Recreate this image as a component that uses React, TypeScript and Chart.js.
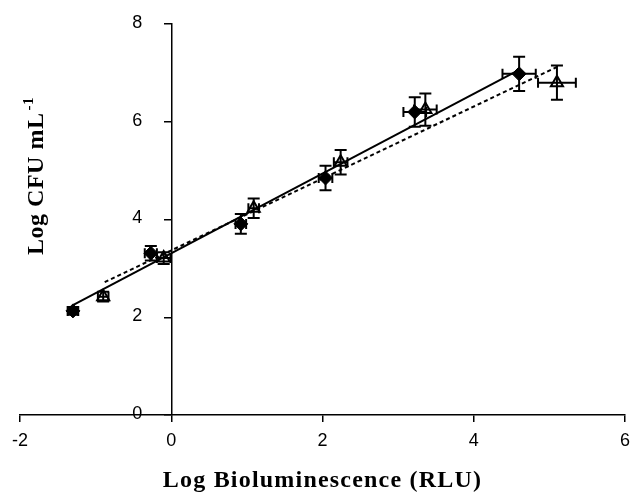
import React, { useEffect, useRef } from "react";
import { Chart, registerables } from "chart.js";

Chart.register(...registerables);

// Filled diamonds (solid fit line)
const diamondX = [-1.3, -0.27, 0.92, 2.04, 3.22, 4.6];
const diamondY = [2.13, 3.31, 3.91, 4.85, 6.2, 6.98];
const diamondXErr = [0.07, 0.08, 0.07, 0.09, 0.15, 0.22];
const diamondYErr = [0.08, 0.15, 0.2, 0.25, 0.3, 0.35];

// Open triangles (dashed fit line)
const triangleX = [-0.9, -0.1, 1.09, 2.24, 3.36, 5.1];
const triangleY = [2.42, 3.21, 4.23, 5.17, 6.25, 6.8];
const triangleXErr = [0.07, 0.09, 0.07, 0.09, 0.15, 0.25];
const triangleYErr = [0.1, 0.12, 0.2, 0.25, 0.33, 0.35];

// Trend lines (end points)
const solidFitX = [-1.3, 4.6];
const solidFitY = [2.25, 7.06];
const dashedFitX = [-0.88, 5.1];
const dashedFitY = [2.72, 7.12];

const xTitle = "Log Bioluminescence (RLU)";
const yTitleMain = "Log CFU mL";
const yTitleSup = "-1";

const TICK_FONT = '18px "Liberation Sans", Arial, sans-serif';

const toPts = (xs: number[], ys: number[]) => xs.map((x, i) => ({ x, y: ys[i] }));

const errorBars = {
  id: "errorBars",
  afterDatasetsDraw(chart: any) {
    const ctx = chart.ctx;
    const xs = chart.scales.x;
    const ys = chart.scales.y;
    const sets = [
      { X: diamondX, Y: diamondY, ex: diamondXErr, ey: diamondYErr },
      { X: triangleX, Y: triangleY, ex: triangleXErr, ey: triangleYErr },
    ];
    ctx.save();
    ctx.strokeStyle = "#000";
    ctx.lineWidth = 2;
    const cap = 6;
    sets.forEach((s) => {
      s.X.forEach((x, i) => {
        const px = xs.getPixelForValue(x);
        const py = ys.getPixelForValue(s.Y[i]);
        const yt = ys.getPixelForValue(s.Y[i] + s.ey[i]);
        const yb = ys.getPixelForValue(s.Y[i] - s.ey[i]);
        const xl = xs.getPixelForValue(x - s.ex[i]);
        const xr = xs.getPixelForValue(x + s.ex[i]);
        ctx.beginPath();
        ctx.moveTo(px, yt); ctx.lineTo(px, yb);
        ctx.moveTo(px - cap, yt); ctx.lineTo(px + cap, yt);
        ctx.moveTo(px - cap, yb); ctx.lineTo(px + cap, yb);
        ctx.moveTo(xl, py); ctx.lineTo(xr, py);
        ctx.moveTo(xl, py - cap + 1); ctx.lineTo(xl, py + cap - 1);
        ctx.moveTo(xr, py - cap + 1); ctx.lineTo(xr, py + cap - 1);
        ctx.stroke();
      });
    });
    ctx.restore();
  },
};

const texts = {
  id: "texts",
  afterDraw(chart: any) {
    const ctx = chart.ctx;
    const area = chart.chartArea;
    const xs = chart.scales.x;
    const ys = chart.scales.y;
    ctx.save();
    ctx.fillStyle = "#000";

    // y tick labels, left of the y axis placed at x = 0
    ctx.font = TICK_FONT;
    ctx.textAlign = "right";
    ctx.textBaseline = "middle";
    const axisPx = xs.getPixelForValue(0);
    ys.ticks.forEach((t: any) => {
      ctx.fillText(String(t.value), axisPx - 29, ys.getPixelForValue(t.value) - 1);
    });

    ctx.font = 'bold 24px "Liberation Serif"';
    (ctx as any).letterSpacing = "1.2px";
    ctx.textAlign = "center";
    ctx.textBaseline = "alphabetic";
    ctx.fillText(xTitle, (area.left + area.right) / 2, 487);

    // y title, rotated, with superscript
    (ctx as any).letterSpacing = "0.5px";
    ctx.translate(43, 176);
    ctx.rotate(-Math.PI / 2);
    ctx.textAlign = "left";
    ctx.font = 'bold 24px "Liberation Serif"';
    const w1 = ctx.measureText(yTitleMain).width;
    ctx.font = 'bold 15px "Liberation Serif"';
    const w2 = ctx.measureText(yTitleSup).width;
    const start = -(w1 + w2 + 2) / 2;
    ctx.font = 'bold 24px "Liberation Serif"';
    ctx.fillText(yTitleMain, start, 0);
    ctx.font = 'bold 15px "Liberation Serif"';
    ctx.fillText(yTitleSup, start + w1 + 2, -10);
    ctx.restore();
  },
};

export default function App() {
  const ref = useRef<HTMLCanvasElement>(null);
  useEffect(() => {
    if (!ref.current) return;
    const tickFont = { family: '"Liberation Sans", Arial, sans-serif', size: 18 };
    const chart = new Chart(ref.current, {
      type: "scatter",
      data: {
        datasets: [
          {
            type: "line",
            data: toPts(solidFitX, solidFitY),
            borderColor: "#000",
            borderWidth: 2,
            pointRadius: 0,
            fill: false,
          } as any,
          {
            type: "line",
            data: toPts(dashedFitX, dashedFitY),
            borderColor: "#000",
            borderWidth: 2,
            borderDash: [4, 3],
            pointRadius: 0,
            fill: false,
          } as any,
          {
            data: toPts(diamondX, diamondY),
            pointStyle: "rectRot",
            pointRadius: 7,
            backgroundColor: "#000",
            borderColor: "#000",
            borderWidth: 1,
          },
          {
            data: toPts(triangleX, triangleY),
            pointStyle: "triangle",
            pointRadius: 7,
            backgroundColor: "#fff",
            borderColor: "#000",
            borderWidth: 2,
          },
        ],
      },
      options: {
        responsive: false,
        animation: false,
        devicePixelRatio: 1,
        layout: { padding: { left: 20, right: 4, top: 24, bottom: 0 } },
        plugins: { legend: { display: false }, tooltip: { enabled: false }, title: { display: false } },
        scales: {
          x: {
            type: "linear",
            min: -2,
            max: 6,
            ticks: { stepSize: 2, color: "#000", font: tickFont, padding: 8, maxRotation: 0 },
            grid: { drawOnChartArea: false, drawTicks: true, tickLength: 7, color: "#000", lineWidth: 1.5 },
            border: { color: "#000", width: 1.5 },
            afterFit: (s: any) => { s.height = 80; s.paddingLeft = 0; s.paddingRight = 0; },
          },
          y: {
            type: "linear",
            position: { x: 0 } as any,
            min: 0,
            max: 8,
            ticks: { stepSize: 2, display: false },
            grid: { drawOnChartArea: false, drawTicks: true, tickLength: 7, color: "#000", lineWidth: 1.5 },
            border: { color: "#000", width: 1.5 },
            afterFit: (s: any) => { s.paddingTop = 0; s.paddingBottom = 0; },
          },
        },
      },
      plugins: [errorBars, texts],
    });
    return () => chart.destroy();
  }, []);
  return (
    <div style={{ position: "absolute", left: 0, top: 0, width: 634, height: 495, background: "#fff" }}>
      <canvas ref={ref} width={634} height={495} />
    </div>
  );
}
